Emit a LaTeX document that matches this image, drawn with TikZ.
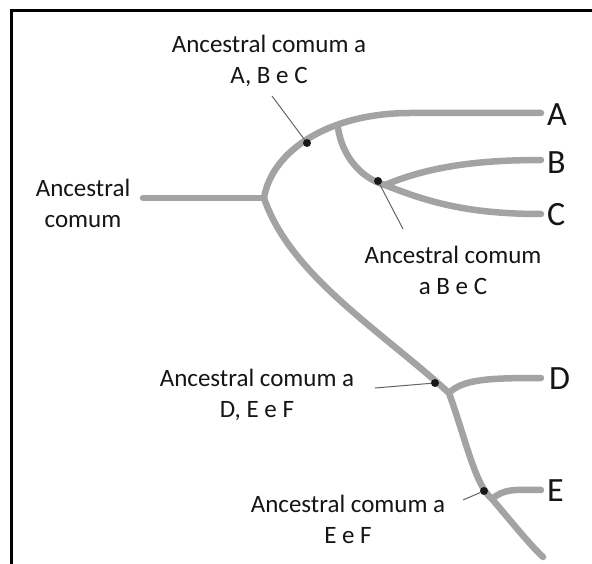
\documentclass[tikz,border=0pt]{standalone}
\usepackage{fontspec}
\setmainfont{Carlito}
\definecolor{branchgray}{HTML}{A3A3A3}
\definecolor{txt}{HTML}{151515}
\begin{document}
\begin{tikzpicture}[x=1pt,y=-1pt,
  branch/.style={draw=branchgray,line width=6.5pt,line cap=round},
  pointer/.style={draw=gray!80!black,line width=1pt},
  dotnode/.style={circle,fill=black!90,inner sep=0pt,minimum size=8pt},
  lab/.style={font=\fontsize{25}{31}\selectfont,text=txt,align=center,inner sep=0pt},
  leaf/.style={font=\fontsize{34}{36}\selectfont,text=txt,inner sep=0pt,anchor=west}]
\useasboundingbox (0,0) rectangle (592,564);
\fill[white] (0,0) rectangle (592,564);
% frame (right and bottom lie outside the picture)
\draw[line width=3pt] (11,600) -- (11,11) -- (620,11);
% coordinates of the tree
\coordinate (root) at (143,198);
\coordinate (j0) at (264,198);
\coordinate (sub) at (338,128);
\coordinate (bc) at (385,185);
\coordinate (jd) at (449,393);
\coordinate (je) at (492,499);
\coordinate (tA) at (541,113);
\coordinate (tB) at (541,160);
\coordinate (tC) at (541,214);
\coordinate (tD) at (541,378);
\coordinate (tE) at (541,490);
\coordinate (tF) at (543,557);
% branches
\draw[branch] (root) -- (j0);
\draw[branch] (j0) .. controls (272,150) and (330,113) .. (410,113) -- (tA);
\draw[branch] (sub) .. controls (342,155) and (360,178) .. (bc);
\draw[branch] (bc) .. controls (430,166) and (480,160) .. (tB);
\draw[branch] (bc) .. controls (430,203) and (470,214) .. (tC);
\draw[branch] (j0) .. controls (290,275) and (380,330) .. (jd);
\draw[branch] (jd) .. controls (463,379) and (490,378) .. (tD);
\draw[branch] (jd) .. controls (466,440) and (475,485) .. (je) .. controls (510,520) and (530,545) .. (tF);
\draw[branch] (je) .. controls (505,488) and (515,490) .. (tE);
% dots
\node[dotnode] (dABC) at (307,143) {};
\node[dotnode] (dBC) at (378,181) {};
\node[dotnode] (dDEF) at (435,383) {};
\node[dotnode] (dEF) at (484,491) {};
% labels
\node[lab] (lABC) at (269,61) {Ancestral comum a\\A, B e C};
\node[lab] (lroot) at (83,203) {Ancestral\\comum};
\node[lab] (lBC) at (453,270) {Ancestral comum\\a B e C};
\node[lab] (lDEF) at (257,395) {Ancestral comum a\\D, E e F};
\node[lab] (lEF) at (348,519) {Ancestral comum a\\E e F};
% pointers
\coordinate (pABC) at (272,96);
\coordinate (pBC) at (403,229);
\coordinate (pDEF) at (375,388);
\coordinate (pEF) at (463,500);
\draw[pointer] (pABC) -- (dABC);
\draw[pointer] (dBC) -- (pBC);
\draw[pointer] (pDEF) -- (dDEF);
\draw[pointer] (pEF) -- (dEF);
% leaf letters
\node[leaf] (A) at (547,115) {A};
\node[leaf] (B) at (547,163) {B};
\node[leaf] (C) at (547,215) {C};
\node[leaf] (D) at (549,379) {D};
\node[leaf] (E) at (547,491) {E};
\end{tikzpicture}
\end{document}
